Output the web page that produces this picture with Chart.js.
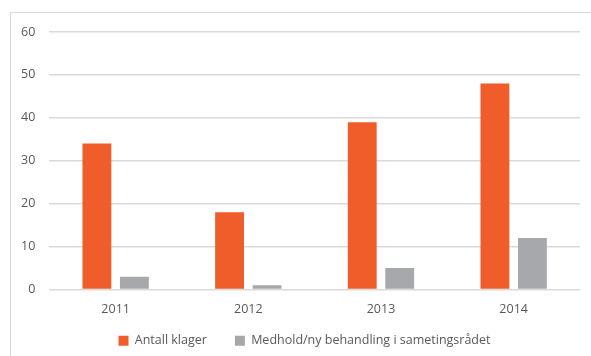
<!DOCTYPE html>
<html>
<head>
<meta charset="utf-8">
<script src="https://cdn.jsdelivr.net/npm/chart.js@4"></script>
<style>
  html, body { margin: 0; padding: 0; background: #fff; }
  body { width: 591px; height: 356px; position: relative; overflow: hidden; }
  .frame {
    position: absolute; left: 10px; top: 12px;
    width: 640px; height: 400px;
    border: 1px solid #d9d9d9;
  }
  #wrap { position: absolute; left: 0; top: 0; width: 591px; height: 377px; }
</style>
</head>
<body>
<div class="frame"></div>
<div id="wrap"><canvas id="chart"></canvas></div>
<script>
// Categories and series
const years = ['2011', '2012', '2013', '2014'];
const antallKlager = [34, 18, 39, 48];
const medhold = [3, 1, 5, 12];
const yTicks = [0, 10, 20, 30, 40, 50, 60];

const textColor = '#595959';
const gridColor = '#d9d9d9';
const font = { family: 'Open Sans', size: 12.5 };

// pull the legend up under the axis labels and a bit to the right,
// keeping the wide gap between its items
const legendShift = {
  id: 'legendShift',
  afterLayout(chart) {
    const dx = 11, dy = -14;
    const lg = chart.legend;
    lg.top += dy;
    lg.bottom += dy;
    lg.left += dx;
    lg.right += dx;
  }
};

new Chart(document.getElementById('chart'), {
  type: 'bar',
  data: {
    labels: years,
    datasets: [
      {
        label: 'Antall klager',
        data: antallKlager,
        backgroundColor: '#f15d2a',
        categoryPercentage: 0.565,
        barPercentage: 0.77
      },
      {
        label: 'Medhold/ny behandling i sametingsrådet',
        data: medhold,
        backgroundColor: '#a7a8ab',
        categoryPercentage: 0.565,
        barPercentage: 0.77
      }
    ]
  },
  plugins: [legendShift],
  options: {
    responsive: true,
    maintainAspectRatio: false,
    animation: false,
    layout: {
      padding: { left: 7, right: 11, top: 32, bottom: 6 }
    },
    scales: {
      x: {
        grid: { display: false },
        border: { display: false },
        ticks: { color: textColor, font, padding: 4 }
      },
      y: {
        min: 0,
        max: 60,
        afterBuildTicks: (axis) => {
          axis.ticks = yTicks.map(v => ({ value: v }));
        },
        grid: { color: gridColor, lineWidth: 1.5, drawTicks: false },
        border: { display: false },
        ticks: { color: textColor, font, padding: 14 }
      }
    },
    plugins: {
      legend: {
        position: 'bottom',
        labels: {
          color: textColor,
          font,
          boxWidth: 10,
          boxHeight: 10,
          padding: 28
        }
      },
      tooltip: { enabled: false }
    }
  }
});
</script>
</body>
</html>
